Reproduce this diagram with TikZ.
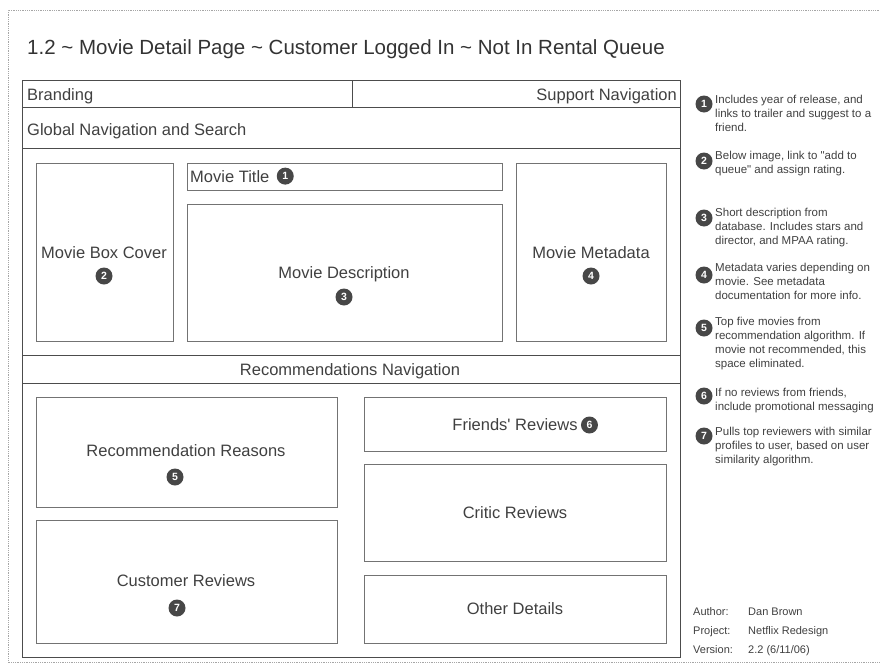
\documentclass[tikz,border=0pt]{standalone}
\usepackage{fontspec}
\setmainfont{Liberation Sans}
\usepackage{tikz}

\tikzset{
  frame/.style={draw=black!70, line width=1pt},
  box/.style={draw=black!55, line width=0.6pt},
  lbl/.style={text=black!75, font=\fontsize{16.5}{18}\selectfont, inner sep=0pt},
  badge/.style={circle, fill=black!72, text=white, inner sep=0pt, minimum size=17pt,
    font=\bfseries\fontsize{10.5}{10.5}\selectfont},
  note/.style={text=black!75, font=\fontsize{11.5}{14}\selectfont, align=left,
    anchor=north west, inner sep=0pt},
  meta/.style={text=black!75, font=\fontsize{11}{12}\selectfont, anchor=base west, inner sep=0pt}
}

\begin{document}
\begin{tikzpicture}[x=1pt,y=-1pt]
\useasboundingbox (0,0) rectangle (880,664);
\draw[black!35, densely dotted, line width=0.8pt] (890,10) -- (8,10) -- (8,662) -- (890,662);

\node[text=black!80, font=\fontsize{20.5}{22}\selectfont, anchor=base west, inner sep=0pt] (title) at (27,54)
  {1.2 \textasciitilde{} Movie Detail Page \textasciitilde{} Customer Logged In \textasciitilde{} Not In Rental Queue};

% page frame and bars
\draw[frame] (22,80) rectangle (680,657);
\draw[frame] (22,107) -- (680,107);
\draw[frame] (352,80) -- (352,107);
\draw[frame] (22,148) -- (680,148);
\draw[frame] (22,355) -- (680,355);
\draw[frame] (22,383) -- (680,383);
\node[lbl, anchor=base west] (brand) at (27,100) {Branding};
\node[lbl, anchor=base east] (support) at (677,100) {Support Navigation};
\node[lbl, anchor=base west] (global) at (27,135) {Global Navigation and Search};
\node[lbl, anchor=base] (recnav) at (350,375) {Recommendations Navigation};

% movie boxes
\draw[box] (36,163) rectangle (173,341);
\draw[box] (187,163) rectangle (502,190);
\draw[box] (187,204) rectangle (502,341);
\draw[box] (516,163) rectangle (666,341);
\node[lbl] (cover) at (104,253) {Movie Box Cover};
\node[badge] (b2) at (104,276) {2};
\node[lbl, anchor=base west] (mtitle) at (190,182) {Movie Title};
\node[badge, right=7pt] (b1) at (mtitle.east) {1};
\node[lbl] (descr) at (344,274) {Movie Description};
\node[badge] (b3) at (344,297) {3};
\node[lbl] (metadata) at (591,253) {Movie Metadata};
\node[badge] (b4) at (591,276) {4};

% recommendation and review boxes
\draw[box] (36,397) rectangle (337,507);
\draw[box] (36,520) rectangle (337,643);
\draw[box] (364,397) rectangle (666,451);
\draw[box] (364,464) rectangle (666,561);
\draw[box] (364,575) rectangle (666,643);
\node[lbl] (reasons) at (186,451) {Recommendation Reasons};
\node[badge] (b5) at (175,477) {5};
\node[lbl] (customer) at (186,581) {Customer Reviews};
\node[badge] (b7) at (177,608) {7};
\node[lbl] (friends) at (515,425) {Friends\textquotesingle{} Reviews};
\node[badge, right=3pt] (b6) at (friends.east) {6};
\node[lbl] (critic) at (515,513) {Critic Reviews};
\node[lbl] (other) at (515,609) {Other Details};

% notes
\node[badge] (n1) at (704,104) {1};
\node[note] (t1) at (715,95) {Includes year of release, and\\links to trailer and suggest to a\\friend.};
\node[badge] (n2) at (704,161) {2};
\node[note] (t2) at (715,151) {Below image, link to \textquotedbl add to\\queue\textquotedbl{} and assign rating.};
\node[badge] (n3) at (704,218) {3};
\node[note] (t3) at (715,208) {Short description from\\database. Includes stars and\\director, and MPAA rating.};
\node[badge] (n4) at (704,275) {4};
\node[note] (t4) at (715,263) {Metadata varies depending on\\movie. See metadata\\documentation for more info.};
\node[badge] (n5) at (704,328) {5};
\node[note] (t5) at (715,317) {Top five movies from\\recommendation algorithm. If\\movie not recommended, this\\space eliminated.};
\node[badge] (n6) at (704,396) {6};
\node[note] (t6) at (715,388) {If no reviews from friends,\\include promotional messaging};
\node[badge] (n7) at (704,436) {7};
\node[note] (t7) at (715,427) {Pulls top reviewers with similar\\profiles to user, based on user\\similarity algorithm.};

% author block
\node[meta] (author) at (693,615) {Author:};
\node[meta] (authorv) at (748,615) {Dan Brown};
\node[meta] (project) at (693,634) {Project:};
\node[meta] (projectv) at (748,634) {Netflix Redesign};
\node[meta] (version) at (693,653) {Version:};
\node[meta] (versionv) at (748,653) {2.2 (6/11/06)};
\end{tikzpicture}
\end{document}
